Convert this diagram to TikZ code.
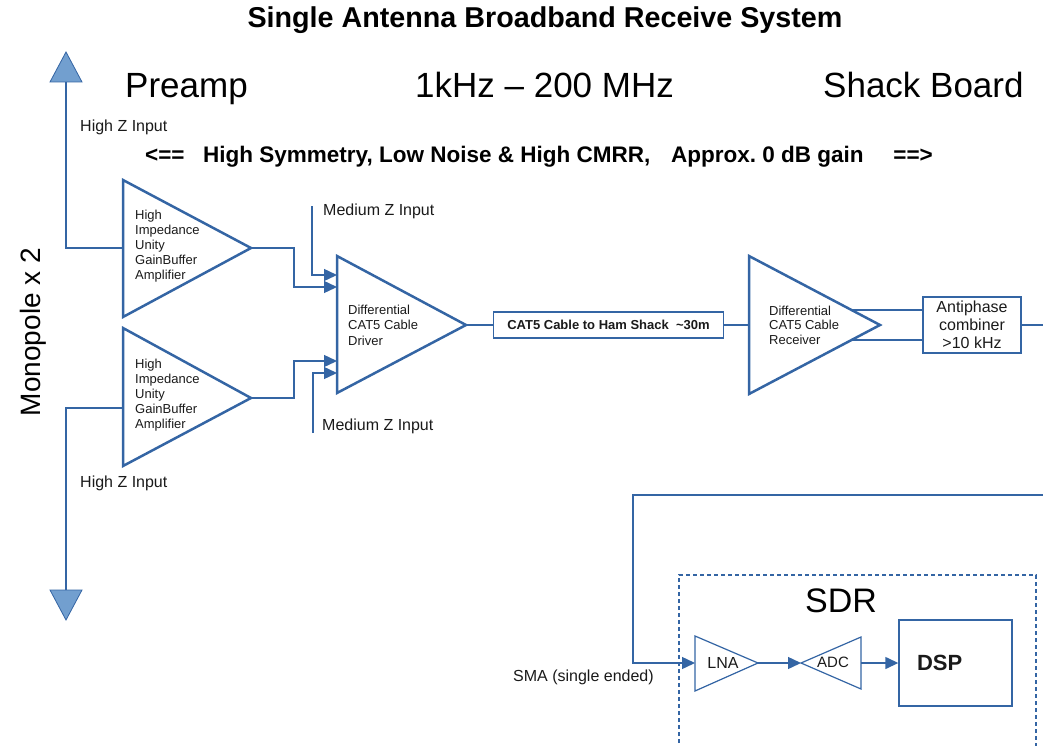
\documentclass[tikz,border=0pt]{standalone}
\usepackage{fontspec}
\setmainfont{Liberation Sans}
\usetikzlibrary{arrows.meta}
\definecolor{lblue}{HTML}{3465A4}
\definecolor{fblue}{HTML}{729FCF}
\definecolor{txt}{HTML}{1A1A1A}
\frenchspacing
\begin{document}
\begin{tikzpicture}[x=1pt,y=-1pt,
  wire/.style={draw=lblue, line width=1.4pt},
  arr/.style={wire, -{Triangle[length=13pt,width=12pt]}},
  amp/.style={draw=lblue, line width=2.5pt, line join=miter},
  thinamp/.style={draw=lblue, line width=1.2pt, line join=miter},
  ant/.style={draw=lblue, fill=fblue, line width=0.8pt, line join=miter},
  lbl/.style={inner sep=0pt, anchor=base west, text=txt},
  fs13/.style={font=\fontsize{13}{15}\selectfont},
  fs16/.style={font=\fontsize{16}{18}\selectfont},
  fsbig/.style={font=\fontsize{35}{40}\selectfont},
  fssub/.style={font=\fontsize{22.5}{24}\selectfont\bfseries},
  boxn/.style={draw=lblue, inner sep=0pt, text=txt}
]
\useasboundingbox (0,0) rectangle (1043,746);

% headings
\node[inner sep=0pt, anchor=base, font=\fontsize{28.7}{31}\selectfont\bfseries] (title) at (545,28) {Single Antenna Broadband Receive System};
\node[lbl, fsbig, text=black] (hpre) at (125,98) {Preamp};
\node[lbl, fsbig, text=black] (hfreq) at (415,98) {1kHz – 200 MHz};
\node[lbl, fsbig, text=black] (hshack) at (823,98) {Shack Board};
\node[lbl, fssub, text=black] (s1) at (145,163) {<==};
\node[lbl, fssub, text=black] (s2) at (203,163) {High Symmetry, Low Noise \& High CMRR,};
\node[lbl, fssub, text=black] (s3) at (671,163) {Approx. 0 dB gain};
\node[inner sep=0pt, anchor=base east, fssub, text=black] (s4) at (933,163) {==>};
\node[inner sep=0pt, anchor=base, rotate=90, font=\fontsize{28}{30}\selectfont, text=black] (mono) at (40,332) {Monopole x 2};

% antennas
\coordinate (ant1) at (66,82);
\coordinate (ant2) at (66,590);
\draw[ant] (50,82) -- (66,52) -- (82,82) -- cycle;
\draw[ant] (50,590) -- (66,620) -- (82,590) -- cycle;
\node[lbl, fs16] (hz1) at (80,132) {High Z Input};
\node[lbl, fs16] (hz2) at (80,487) {High Z Input};

% buffer amplifiers
\coordinate (a1in) at (123,248);
\coordinate (a1tip) at (251,248);
\coordinate (a2in) at (123,408);
\coordinate (a2tip) at (251,398);
\draw[amp] (123,180) -- (a1tip) -- (123,317) -- cycle;
\draw[amp] (123,328) -- (a2tip) -- (123,466) -- cycle;
\foreach \t [count=\i from 0] in {High,Impedance,Unity,GainBuffer,Amplifier}{
  \node[lbl, fs13] (a1t\i) at (135,219+15*\i) {\t};
  \node[lbl, fs13] (a2t\i) at (135,368+15*\i) {\t};
}
\draw[wire] (ant1) |- (a1in);
\draw[wire] (ant2) |- (a2in);

% driver
\coordinate (din1) at (337,275);
\coordinate (din2) at (337,287);
\coordinate (din3) at (337,361);
\coordinate (din4) at (337,373);
\coordinate (dtip) at (466,325);
\draw[amp] (337,256) -- (dtip) -- (337,393) -- cycle;
\node[lbl, fs13] (dt1) at (348,314) {Differential};
\node[lbl, fs13] (dt2) at (348,329.5) {CAT5 Cable};
\node[lbl, fs13] (dt3) at (348,345) {Driver};
\coordinate (mz1) at (312,206);
\coordinate (mz2) at (313,433);
\node[lbl, fs16] (mzt1) at (323,215) {Medium Z Input};
\node[lbl, fs16] (mzt2) at (322,430) {Medium Z Input};
\draw[arr] (mz1) |- (din1);
\draw[arr] (a1tip) -- (294,248) |- (din2);
\draw[arr] (a2tip) -- (294,398) |- (din3);
\draw[arr] (mz2) |- (din4);

% cable
\node[boxn, line width=1.4pt, minimum width=230pt, minimum height=26pt, font=\fontsize{13}{15}\selectfont\bfseries] (cat) at (608.5,325) {CAT5 Cable to Ham Shack\ \ \textasciitilde 30m};
\draw[wire] (dtip) -- (cat.west);

% receiver
\coordinate (rin) at (749,325);
\coordinate (ro1) at (852,310);
\coordinate (ro2) at (852,340);
\draw[amp] (749,256) -- (880,325) -- (749,394) -- cycle;
\node[lbl, fs13] (rt1) at (769,315) {Differential};
\node[lbl, fs13] (rt2) at (769,329.5) {CAT5 Cable};
\node[lbl, fs13] (rt3) at (769,344) {Receiver};
\draw[wire] (cat.east) -- (rin);

% combiner
\node[boxn, line width=2.5pt, minimum width=98pt, minimum height=56pt, fs16, align=center] (comb) at (972,325) {Antiphase\\combiner\\>10 kHz};
\draw[wire] (ro1) -- (ro1 -| comb.west);
\draw[wire] (ro2) -- (ro2 -| comb.west);
\coordinate (edgeR) at (1043,325);
\draw[wire] (comb.east) -- (edgeR);

% SDR
\draw[draw=lblue, line width=1.2pt, dash pattern=on 4pt off 3pt] (679,750) -- (679,575) -- (1036,575) -- (1036,750);
\node[inner sep=0pt, anchor=base, font=\fontsize{34}{38}\selectfont, text=black] (sdr) at (841,612) {SDR};
\coordinate (lnain) at (695,663);
\coordinate (lnatip) at (758,663);
\coordinate (adctip) at (801,663);
\coordinate (adcout) at (861,663);
\draw[thinamp] (695,636) -- (lnatip) -- (695,691) -- cycle;
\draw[thinamp] (adctip) -- (861,637) -- (861,689) -- cycle;
\node[inner sep=0pt, anchor=base, fs16, text=txt] (lnat) at (723,668) {LNA};
\node[inner sep=0pt, anchor=base, font=\fontsize{15}{17}\selectfont, text=txt] (adct) at (833,667) {ADC};
\node[boxn, line width=1.4pt, minimum height=86pt, inner xsep=18pt, text width=77pt, align=left, font=\fontsize{22}{24}\selectfont\bfseries] (dsp) at (955.5,663) {DSP};
\coordinate (edgeB) at (1043,495);
\node[lbl, fs16] (sma) at (513,681) {SMA (single ended)};
\draw[arr] (edgeB) -- (633,495) |- (lnain);
\draw[arr] (lnatip) -- (adctip);
\draw[arr] (adcout) -- (dsp.west);
\end{tikzpicture}
\end{document}
